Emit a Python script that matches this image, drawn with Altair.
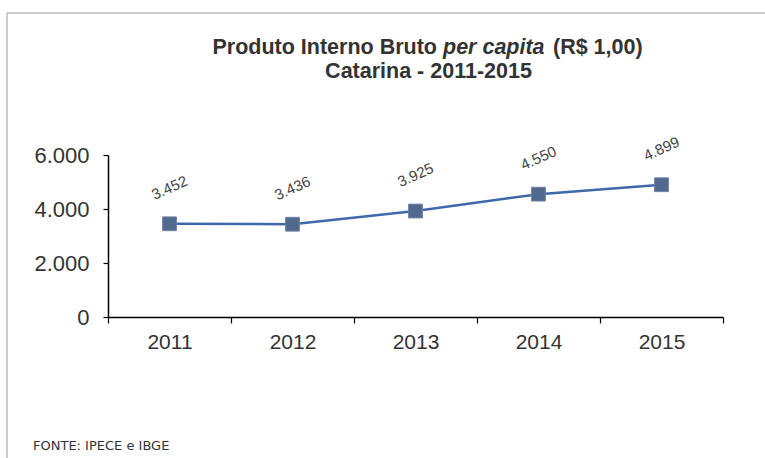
import altair as alt
import pandas as pd

years = ["2011", "2012", "2013", "2014", "2015"]
values = [3452, 3436, 3925, 4550, 4899]
labels = ["3.452", "3.436", "3.925", "4.550", "4.899"]
y_ticks = [0, 2000, 4000, 6000]

title_1a = "Produto Interno Bruto"
title_1b = "per capita"
title_1c = "(R$ 1,00)"
title_2 = "Catarina - 2011-2015"
source = "FONTE: IPECE e IBGE"

df = pd.DataFrame({"ano": years, "valor": values, "rotulo": labels})

FONT = "Liberation Sans"
W, H = 615, 162
LEFT, TOP = 108, 155
TS = 21.5

x_enc = alt.X(
    "ano:O",
    scale=alt.Scale(paddingInner=0, paddingOuter=0),
    axis=alt.Axis(
        title=None, labelAngle=0, tickBand="extent", ticks=True, tickSize=6,
        tickColor="#000", tickWidth=1.2, domainColor="#000", domainWidth=1.5,
        labelFont=FONT, labelFontSize=21, labelColor="#333", labelPadding=8,
    ),
)
y_enc = alt.Y(
    "valor:Q",
    scale=alt.Scale(domain=[0, 6000], nice=False),
    axis=alt.Axis(
        title=None, values=y_ticks, grid=False, tickSize=5, tickColor="#000",
        tickWidth=1.2, domainColor="#000", domainWidth=1.5,
        labelFont=FONT, labelFontSize=22, labelColor="#333", labelPadding=14,
        labelExpr="replace(format(datum.value, ','), ',', '.')",
    ),
)

base = alt.Chart(df)

line = base.mark_line(color="#3F68AA", strokeWidth=2.5).encode(x=x_enc, y=y_enc)
points = base.mark_point(
    shape="square", filled=True, size=190, color="#51688F", opacity=1,
    stroke="#6F82A6", strokeWidth=1,
).encode(x="ano:O", y="valor:Q")
texts = base.mark_text(
    font=FONT, fontSize=15, color="#444", angle=336, align="center",
    baseline="middle", yOffset=-36,
).encode(x="ano:O", y="valor:Q", text="rotulo:N")

ann = alt.Chart(pd.DataFrame({"k": [0]}))
t1a = ann.mark_text(font=FONT, fontSize=TS, fontWeight="bold", color="#333",
                    align="right", baseline="alphabetic").encode(
    x=alt.value(329), y=alt.value(-101), text=alt.value(title_1a))
t1b = ann.mark_text(font=FONT, fontSize=TS, fontWeight="bold", fontStyle="italic",
                    color="#333", align="left", baseline="alphabetic").encode(
    x=alt.value(335), y=alt.value(-101), text=alt.value(title_1b))
t1c = ann.mark_text(font=FONT, fontSize=TS, fontWeight="bold", color="#333",
                    align="left", baseline="alphabetic").encode(
    x=alt.value(445), y=alt.value(-101), text=alt.value(title_1c))
t2 = ann.mark_text(font=FONT, fontSize=TS, fontWeight="bold", color="#333",
                   align="center", baseline="alphabetic").encode(
    x=alt.value(320.5), y=alt.value(-77), text=alt.value(title_2))
src = ann.mark_text(font="DejaVu Sans", fontSize=13, color="#333", align="left",
                    baseline="alphabetic").encode(
    x=alt.value(-75), y=alt.value(295), text=alt.value(source))
border = ann.mark_rect(fill=None, stroke="#9a9a9a", strokeWidth=1).encode(
    x=alt.value(7 - LEFT), x2=alt.value(780 - LEFT),
    y=alt.value(13 - TOP), y2=alt.value(480 - TOP))

chart = alt.layer(border, line, points, texts, t1a, t1b, t1c, t2, src).properties(
    width=W, height=H,
    autosize=alt.AutoSizeParams(type="none"),
    padding={"left": LEFT, "top": TOP, "right": 765 - LEFT - W, "bottom": 458 - TOP - H},
    background="white",
).configure_view(stroke=None)

chart.save("out.html", embed_options={"renderer": "svg", "actions": False})
